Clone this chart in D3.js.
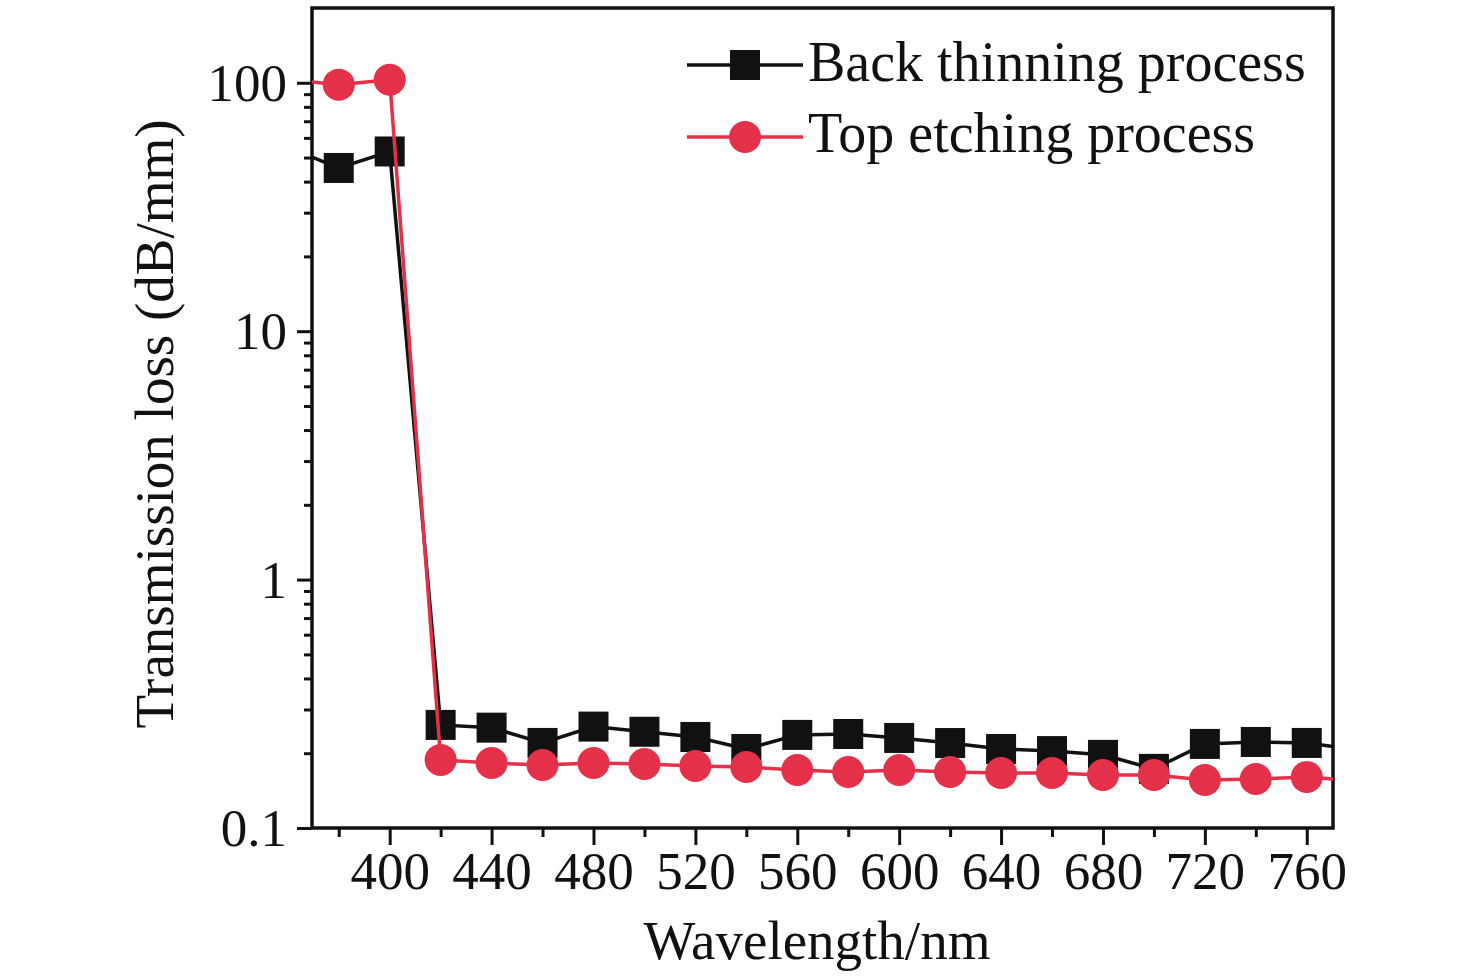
<!DOCTYPE html>
<html><head><meta charset="utf-8">
<script src="https://cdn.jsdelivr.net/npm/d3@7"></script>
<style>
html,body{margin:0;padding:0;background:#fff;}
text{font-family:"Liberation Serif","Times New Roman",serif;fill:#111;}
</style></head>
<body><svg id="c" width="1476" height="977"></svg>
<script>
const wavelengths = [360,380,400,420,440,460,480,500,520,540,560,580,600,620,640,660,680,700,720,740,760,780];
const backThinning = [55,45.4,52.9,0.260,0.2535,0.220,0.256,0.244,0.2325,0.208,0.237,0.239,0.2304,0.2198,0.208,0.204,0.197,0.173,0.218,0.222,0.220,0.206];
const topEtching = [103,98.3,102.9,0.188,0.1827,0.1793,0.1827,0.181,0.1777,0.176,0.1712,0.168,0.1712,0.168,0.1665,0.1665,0.1635,0.1635,0.156,0.1575,0.1605,0.1546];
const xMajorTicks = [400,440,480,520,560,600,640,680,720,760];
const xMinorTicks = [380,420,460,500,540,580,620,660,700,740];
const yMajorTicks = [0.1,1,10,100];
const yMinorTicks = [0.2,0.3,0.4,0.5,0.6,0.7,0.8,0.9,2,3,4,5,6,7,8,9,20,30,40,50,60,70,80,90];
const seriesNames = ["Back thinning process","Top etching process"];

const L=312,R=1333,T=8,B=828;
const svg=d3.select("#c");
const x=d3.scaleLinear().domain([369.5,770.3]).range([L,R]);
const y=d3.scaleLog().domain([0.1,200]).range([B,T]);

svg.append("defs").append("clipPath").attr("id","clip")
  .append("rect").attr("x",L).attr("y",T).attr("width",R-L).attr("height",B-T);

const fmtY=d=>d>=1?String(d):"0.1";
const gx=svg.append("g").attr("transform",`translate(0,${B})`)
  .call(d3.axisBottom(x).tickValues(xMajorTicks).tickSize(17).tickPadding(3).tickFormat(d3.format("d")));
const gxm=svg.append("g").attr("transform",`translate(0,${B})`)
  .call(d3.axisBottom(x).tickValues(xMinorTicks).tickSize(9).tickFormat(""));
const gy=svg.append("g").attr("transform",`translate(${L},0)`)
  .call(d3.axisLeft(y).tickValues(yMajorTicks).tickSize(15).tickPadding(10).tickFormat(fmtY));
const gym=svg.append("g").attr("transform",`translate(${L},0)`)
  .call(d3.axisLeft(y).tickValues(yMinorTicks).tickSize(8).tickFormat(""));
[gx,gxm,gy,gym].forEach(g=>{
  g.select(".domain").remove();
  g.selectAll(".tick line").attr("stroke","#111").attr("stroke-width",3);
  g.selectAll(".tick text").style("font-size","53px").attr("fill","#111");
});
gx.selectAll(".tick text").attr("dy","0.78em");
gy.selectAll(".tick text").attr("dy","0.33em");

svg.append("rect").attr("x",L).attr("y",T).attr("width",R-L).attr("height",B-T)
  .attr("fill","none").attr("stroke","#111").attr("stroke-width",3.5);

const red="#e5304a";
const plot=svg.append("g").attr("clip-path","url(#clip)");
const line=vals=>d3.line().x((d,i)=>x(wavelengths[i])).y(d=>y(d))(vals);

plot.append("path").attr("d",line(backThinning)).attr("fill","none").attr("stroke","#111").attr("stroke-width",3.5);
const s=30;
plot.selectAll("rect.sq").data(backThinning).enter().append("rect")
  .attr("x",(d,i)=>x(wavelengths[i])-s/2).attr("y",d=>y(d)-s/2).attr("width",s).attr("height",s).attr("fill","#111");

plot.append("path").attr("d",line(topEtching)).attr("fill","none").attr("stroke",red).attr("stroke-width",3.5);
plot.selectAll("circle.ci").data(topEtching).enter().append("circle")
  .attr("cx",(d,i)=>x(wavelengths[i])).attr("cy",d=>y(d)).attr("r",16).attr("fill",red);

const lg=svg.append("g");
const legY=[65,137];
lg.append("line").attr("x1",687).attr("x2",803).attr("y1",legY[0]).attr("y2",legY[0]).attr("stroke","#111").attr("stroke-width",3.5);
lg.append("rect").attr("x",745-15).attr("y",legY[0]-15).attr("width",30).attr("height",30).attr("fill","#111");
lg.append("line").attr("x1",687).attr("x2",803).attr("y1",legY[1]).attr("y2",legY[1]).attr("stroke",red).attr("stroke-width",3.5);
lg.append("circle").attr("cx",745).attr("cy",legY[1]).attr("r",16).attr("fill",red);
lg.append("text").attr("x",808).attr("y",81).style("font-size","56px").text(seriesNames[0]);
lg.append("text").attr("x",808).attr("y",152).style("font-size","56px").text(seriesNames[1]);

svg.append("text").attr("x",817).attr("y",959).attr("text-anchor","middle").style("font-size","55px").text("Wavelength/nm");
svg.append("text").attr("transform","translate(173,424) rotate(-90)").attr("text-anchor","middle").style("font-size","55px").text("Transmission loss (dB/mm)");
</script></body></html>
